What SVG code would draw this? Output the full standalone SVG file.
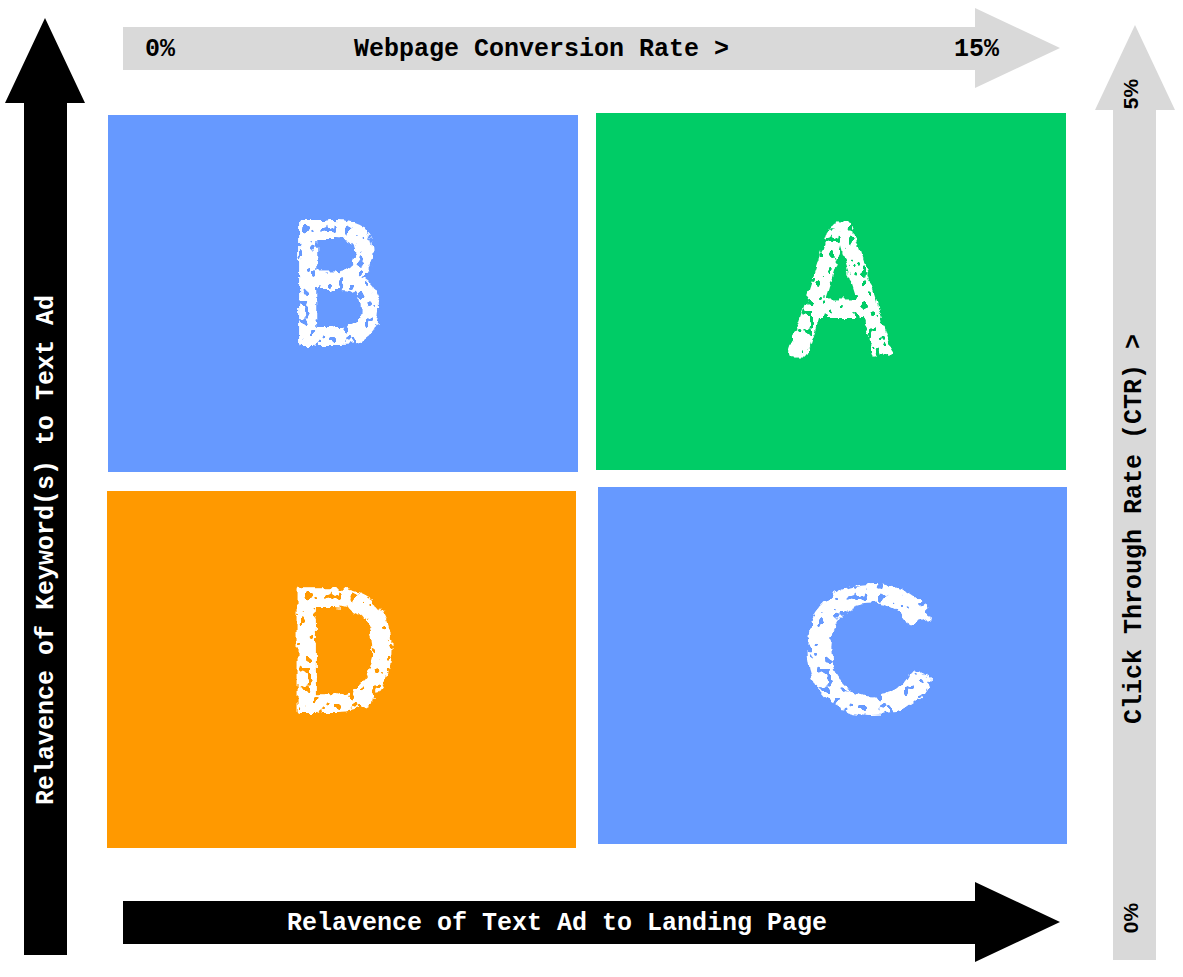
<svg xmlns="http://www.w3.org/2000/svg" width="1183" height="977" viewBox="0 0 1183 977">
  <style>
    .lbl { font-family: "Liberation Mono", "Courier New", monospace; font-weight: bold; font-size: 25px; }
    .pct { font-family: "Liberation Sans", Arial, sans-serif; font-weight: bold; font-size: 21px; }
    .big { font-family: "Liberation Sans", Arial, sans-serif; fill: #ffffff; stroke: #ffffff; stroke-width: 6; stroke-linejoin: round; text-anchor: middle; }
  </style>
  <defs>
    <filter id="chalk" x="-20%" y="-20%" width="140%" height="140%">
      <feTurbulence type="fractalNoise" baseFrequency="0.09" numOctaves="3" seed="4" result="n"/>
      <feDisplacementMap in="SourceGraphic" in2="n" scale="10" xChannelSelector="R" yChannelSelector="G" result="d"/>
      <feTurbulence type="fractalNoise" baseFrequency="0.12" numOctaves="2" seed="9" result="h"/>
      <feColorMatrix in="h" type="matrix" values="0 0 0 0 0  0 0 0 0 0  0 0 0 0 0  0 0 0 -30 20" result="mask"/>
      <feComposite in="d" in2="mask" operator="in"/>
    </filter>
  </defs>
  <rect width="1183" height="977" fill="#ffffff"/>

  <g id="connectors">
    <polygon id="arrow-left" points="24,955 24,103 5,103 45,18 85,103 67,103 67,955" fill="#000000"/>
    <polygon id="arrow-top" points="123,27 975,27 975,8 1060,48 975,88 975,70 123,70" fill="#d9d9d9"/>
    <polygon id="arrow-right" points="1113,960 1113,110 1095,110 1135,25 1175,110 1156,110 1156,960" fill="#d9d9d9"/>
    <polygon id="arrow-bottom" points="123,901 975,901 975,882 1060,922 975,962 975,944 123,944" fill="#000000"/>
  </g>

  <g id="labels">
    <text class="lbl" x="145" y="56" fill="#000">0%</text>
    <text class="lbl" x="354" y="56" fill="#000">Webpage Conversion Rate &gt;</text>
    <text class="lbl" x="954" y="56" fill="#000">15%</text>
    <text class="lbl" x="557" y="930" fill="#fff" text-anchor="middle">Relavence of Text Ad to Landing Page</text>
    <text class="lbl" fill="#fff" text-anchor="middle" transform="translate(53,550) rotate(-90)">Relavence of Keyword(s) to Text Ad</text>
    <text class="lbl" fill="#000" text-anchor="middle" transform="translate(1141,529) rotate(-90)">Click Through Rate (CTR) &gt;</text>
    <text class="pct" fill="#000" text-anchor="middle" transform="translate(1138,94) rotate(-90)">5%</text>
    <text class="pct" fill="#000" text-anchor="middle" transform="translate(1138,918) rotate(-90)">0%</text>
  </g>

  <g id="node-B">
    <rect x="108" y="115" width="470" height="357" fill="#6699ff"/>
    <text class="big" font-size="172" filter="url(#chalk)" transform="translate(337,342) scale(0.82,1)">B</text>
  </g>
  <g id="node-A">
    <rect x="596" y="113" width="470" height="357" fill="#00cc66"/>
    <text class="big" font-size="186" filter="url(#chalk)" transform="translate(841,352) scale(0.8,1)">A</text>
  </g>
  <g id="node-D">
    <rect x="107" y="491" width="469" height="357" fill="#ff9900"/>
    <text class="big" font-size="170" filter="url(#chalk)" transform="translate(342,709) scale(0.88,1)">D</text>
  </g>
  <g id="node-C">
    <rect x="598" y="487" width="469" height="357" fill="#6699ff"/>
    <text class="big" font-size="176" filter="url(#chalk)" transform="translate(868,710) scale(1.05,1)">C</text>
  </g>
</svg>
